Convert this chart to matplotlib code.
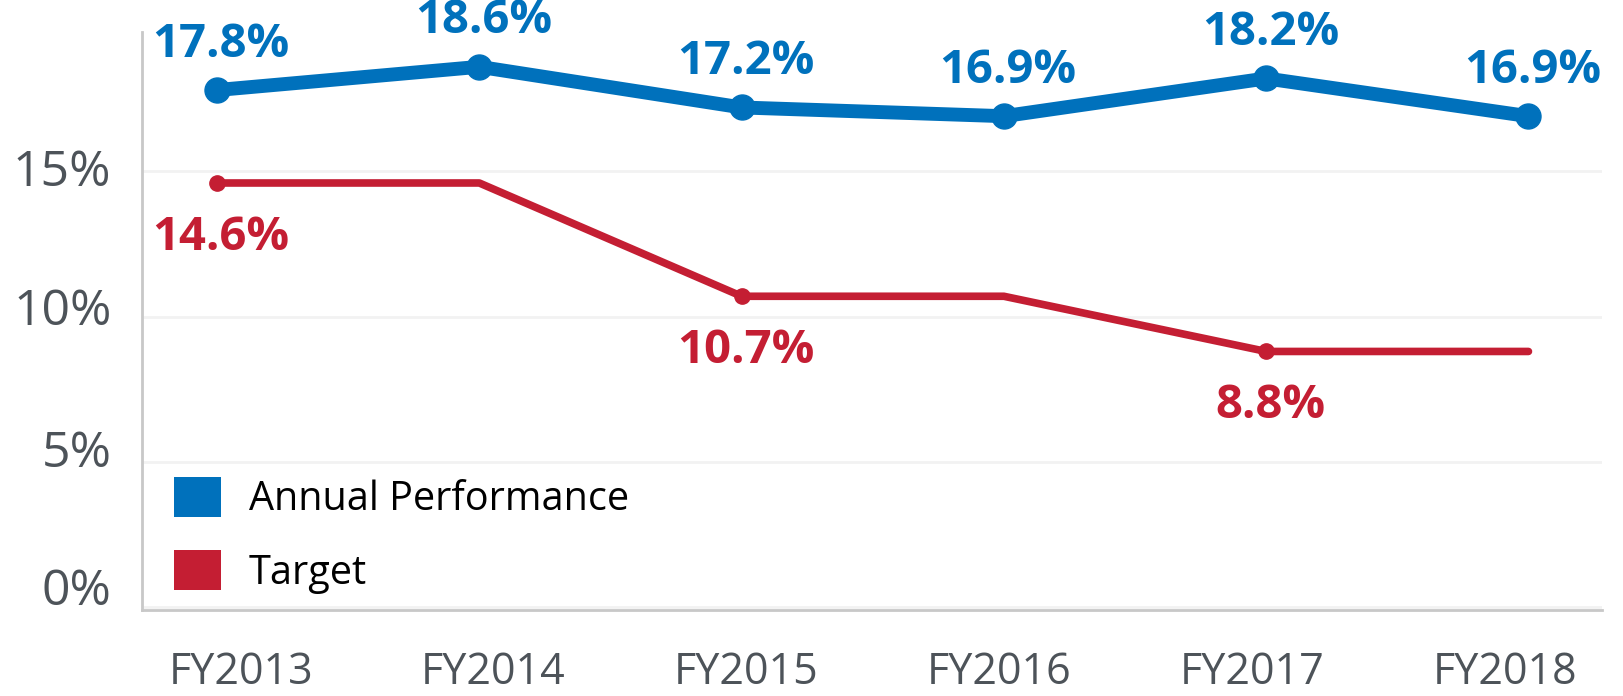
import numpy as np
import matplotlib
matplotlib.use("Agg")
import matplotlib.pyplot as plt
import matplotlib.transforms as mtransforms
from matplotlib.patches import Patch

years = ["FY2013", "FY2014", "FY2015", "FY2016", "FY2017", "FY2018"]
annual = [17.8, 18.6, 17.2, 16.9, 18.2, 16.9]
target = [14.6, 14.6, 10.7, 10.7, 8.8, 8.8]
target_labeled = [0, 2, 4]
y_ticks = [0, 5, 10, 15]
# the y labels sit a bit above their grid lines in the original (pixels)
y_label_lift = [21, 14, 10, 4]

blue = "#0071bc"
red = "#c41e33"
gray = "#4d5359"

plt.rcParams['font.family'] = ['Open Sans', 'DejaVu Sans']

fig = plt.figure(figsize=(16.23, 6.96), dpi=100)
ax = fig.add_axes([0.0875, 0.1236, 0.8995, 0.8305])

x = np.arange(len(years))

ax.plot(x, annual, color=blue, lw=10, marker="o", ms=18,
        solid_capstyle="round", solid_joinstyle="round", zorder=3)
ax.plot(x, target, color=red, lw=5.5, marker="o", ms=11,
        markevery=target_labeled, solid_capstyle="round",
        solid_joinstyle="round", zorder=3)

# value labels
for i, v in enumerate(annual):
    ax.annotate(f"{v}%", (x[i], v), xytext=(3, 24), textcoords="offset points",
                ha="center", va="baseline", color=blue, fontsize=34,
                fontweight="bold")
for i in target_labeled:
    ax.annotate(f"{target[i]}%", (x[i], target[i]), xytext=(3, -48),
                textcoords="offset points", ha="center", va="baseline",
                color=red, fontsize=34, fontweight="bold")

ax.set_xlim(-0.286, 5.28)
ax.set_ylim(-0.1, 19.8)
ax.set_yticks(y_ticks)
ax.set_yticklabels([f"{t}%" for t in y_ticks])
ax.set_xticks(np.linspace(0.09, 4.91, len(years)))
ax.set_xticklabels(years)
ax.tick_params(axis="y", length=0, pad=22, labelsize=36, labelcolor=gray)
ax.tick_params(axis="x", length=0, pad=29.5, labelsize=31, labelcolor=gray)

for lbl, lift in zip(ax.get_yticklabels(), y_label_lift):
    off = mtransforms.ScaledTranslation(0, lift / 100, fig.dpi_scale_trans)
    lbl.set_transform(lbl.get_transform() + off)

ax.grid(axis="y", color="#f2f2f2", lw=2)
ax.set_axisbelow(True)
for s in ["top", "right"]:
    ax.spines[s].set_visible(False)
for s in ["left", "bottom"]:
    ax.spines[s].set_color("#c8c8c8")
    ax.spines[s].set_linewidth(2)

handles = [Patch(facecolor=blue, edgecolor="none"),
           Patch(facecolor=red, edgecolor="none")]
ax.legend(handles, ["Annual Performance", "Target"], loc="lower left",
          bbox_to_anchor=(0.003, -0.02), frameon=False, fontsize=28.5,
          handlelength=1.18, handleheight=1.18, handletextpad=0.7,
          labelspacing=0.76, borderaxespad=0.3)

fig.savefig("out.png", dpi=100, facecolor="white")
